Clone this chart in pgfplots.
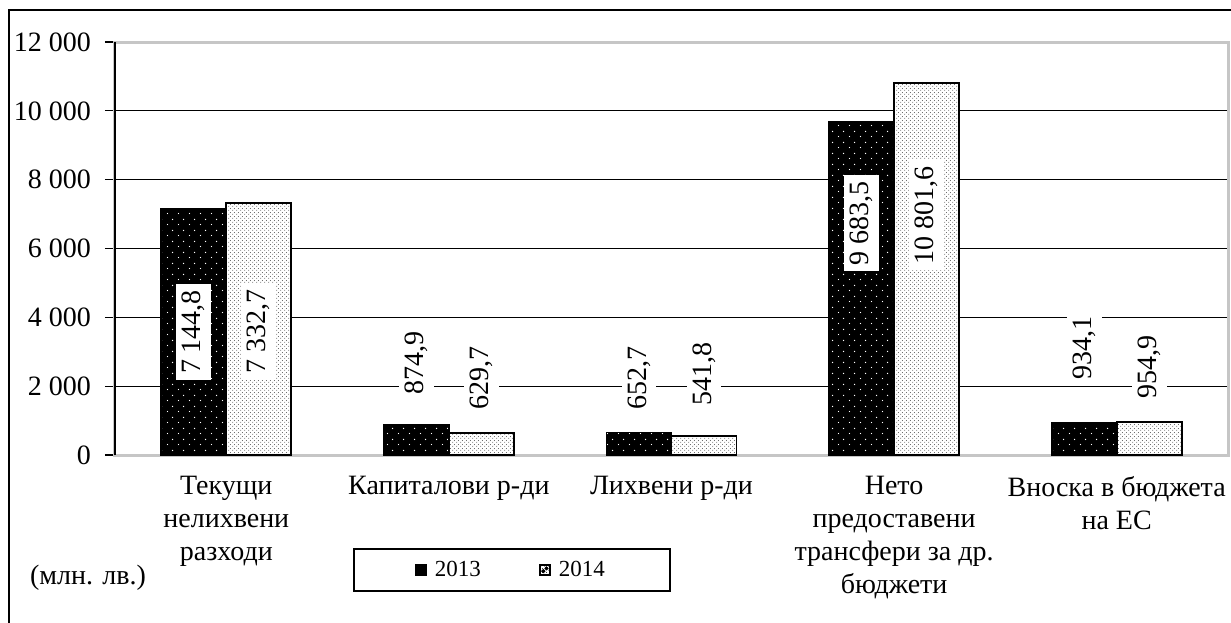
\documentclass[border=0pt]{standalone}
\usepackage{fontspec}
\setmainfont{Liberation Serif}
\usepackage{pgfplots}
\pgfplotsset{compat=1.18}
\usetikzlibrary{patterns.meta}

\tikzdeclarepattern{
  name=whitedots,
  type=uncolored,
  bounding box={(0pt,0pt) and (5.5pt,5.5pt)},
  tile size={(5.5pt,5.5pt)},
  code={\fill (1.375pt,1.375pt) circle (0.38pt); \fill (4.125pt,4.125pt) circle (0.38pt);}
}
\tikzdeclarepattern{
  name=blackdots,
  type=uncolored,
  bounding box={(0pt,0pt) and (2pt,2pt)},
  tile size={(2pt,2pt)},
  code={\fill (0.5pt,0.5pt) circle (0.27pt); \fill (1.5pt,1.5pt) circle (0.27pt);}
}

\begin{document}
\begin{tikzpicture}[font=\rmfamily\fontsize{14pt}{16.5pt}\selectfont,
  lbl/.style={fill=white, rotate=90, inner sep=3pt, font=\rmfamily\fontsize{14pt}{16.5pt}\selectfont}]
\useasboundingbox (-57.5pt,-83.5pt) rectangle (558pt,227.5pt);
\begin{axis}[
  scale only axis, width=556.5pt, height=206.5pt,
  at={(0pt,0pt)}, anchor=south west,
  ybar=0pt, bar width=32.5pt,
  xmin=-0.5, xmax=4.5, ymin=0, ymax=12000,
  clip=false,
  xtick={0,1,2,3,4},
  xticklabels={{Текущи\\нелихвени\\разходи},{Капиталови р-ди},{Лихвени р-ди},{Нето\\предоставени\\трансфери за др.\\бюджети},{Вноска в бюджета\\на ЕС}},
  xticklabel style={align=center, yshift=-2pt},
  x tick style={draw=none},
  ytick={0,2000,4000,6000,8000,10000,12000},
  scaled y ticks=false,
  ytick pos=left,
  y tick style={black, line width=0.6pt},
  tick align=outside, major tick length=5pt,
  ymajorgrids, grid style={black, line width=0.6pt},
  axis line style={draw=gray!45, line width=1.5pt},
  yticklabel style={anchor=east, xshift=-3.5pt},
  /pgf/number format/fixed,
  /pgf/number format/1000 sep={\ },
  /pgf/number format/assume math mode=true,
  legend style={at={(rel axis cs:0.2138,-0.2252)}, anchor=north west,
    legend columns=2, draw=black, line width=0.8pt,
    font=\rmfamily\fontsize{11.5pt}{14pt}\selectfont,
    inner xsep=30.5pt, inner ysep=4pt,
    /tikz/every even column/.append style={column sep=27pt},
    /tikz/every odd column/.append style={column sep=2pt}},
]
\addplot[fill=black, draw=black, line width=0.9pt,
  postaction={pattern=whitedots, pattern color=white},
  legend image code/.code={\draw[fill=black, draw=black, line width=0.8pt] (0pt,-2.6pt) rectangle (5.2pt,2.6pt);}]
  coordinates {(0,7144.8) (1,874.9) (2,652.7) (3,9683.5) (4,934.1)};
\addplot[fill=white, draw=black, line width=0.9pt,
  postaction={pattern=blackdots, pattern color=black},
  legend image code/.code={\draw[fill=white, draw=black, line width=0.9pt] (0pt,-2.6pt) rectangle (5.2pt,2.6pt); \fill (1.8pt,-0.6pt) circle (0.4pt); \fill (3.4pt,0.8pt) circle (0.4pt);}]
  coordinates {(0,7332.7) (1,629.7) (2,541.8) (3,10801.6) (4,954.9)};
\legend{2013,2014}
\node[xshift=-16.25pt, lbl] at (axis cs:0,3574) {7 144,8};
\node[xshift=16.25pt, lbl] at (axis cs:0,3603) {7 332,7};
\node[xshift=-16.25pt, lbl] at (axis cs:1,2659) {874,9};
\node[xshift=16.25pt, lbl] at (axis cs:1,2237) {629,7};
\node[xshift=-16.25pt, lbl] at (axis cs:2,2250) {652,7};
\node[xshift=16.25pt, lbl] at (axis cs:2,2350) {541,8};
\node[xshift=-16.25pt, lbl] at (axis cs:3,6741) {9 683,5};
\node[xshift=16.25pt, lbl] at (axis cs:3,6973) {10 801,6};
\node[xshift=-16.25pt, lbl] at (axis cs:4,3108) {934,1};
\node[xshift=16.25pt, lbl] at (axis cs:4,2571) {954,9};
\draw[black, line width=1pt] (rel axis cs:0,0) -- (rel axis cs:0,1);
\end{axis}
\draw[black, line width=1pt] (-53pt,-95pt) -- (-53pt,222.5pt) -- (570pt,222.5pt);
\node[anchor=west] at (-46pt,-61.5pt) {(млн. лв.)};
\end{tikzpicture}
\end{document}
